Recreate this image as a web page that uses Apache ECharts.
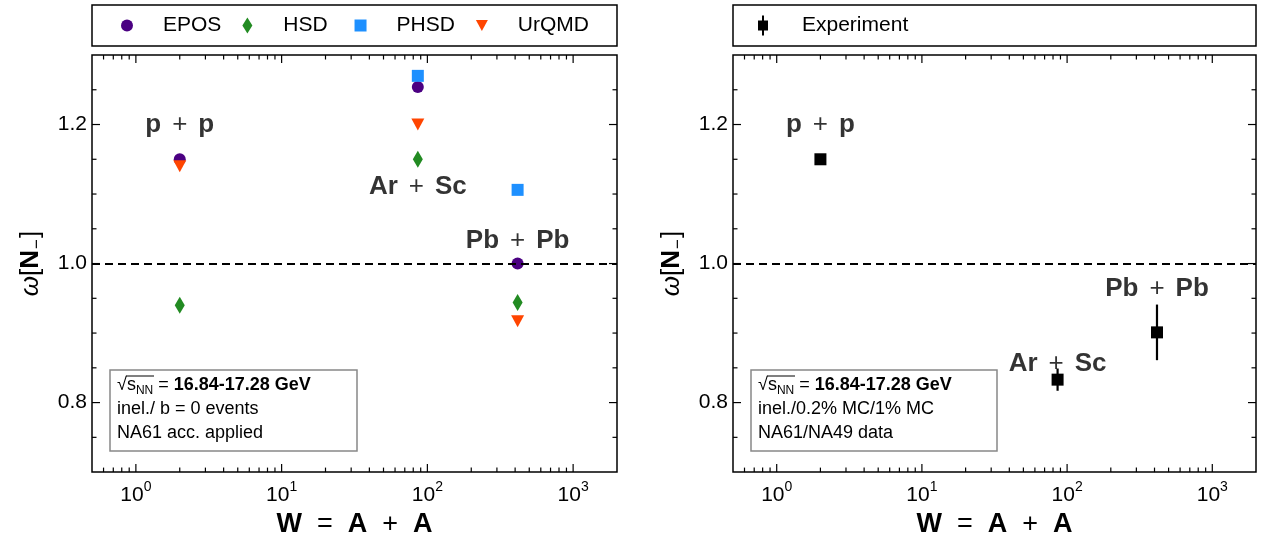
<!DOCTYPE html>
<html><head><meta charset="utf-8">
<script src="https://cdn.jsdelivr.net/npm/echarts@6/dist/echarts.min.js"></script>
<style>html,body{margin:0;padding:0;background:#fff}#c{width:1268px;height:543px}</style>
</head><body><div id="c"></div>
<script>
// ---- data ----
const systems = ['p + p', 'Ar + Sc', 'Pb + Pb'];
const wValues = [2, 86, 416];
const eposVals = [1.150, 1.254, 1.000];
const hsdVals = [0.940, 1.150, 0.944];
const phsdVals = [null, 1.270, 1.106];
const urqmdVals = [1.140, 1.200, 0.917];
const expVals = [1.150, 0.833, 0.901];
const expErrs = [0.004, 0.016, 0.040];
const leftLabelY = [1.200, 1.110, 1.033];
const rightLabelY = [1.200, 0.856, 0.964];
const xMajorTicks = [1, 10, 100, 1000];
const xTickExponents = ['0', '1', '2', '3'];
const yMajorTicks = [0.8, 1.0, 1.2];
const yMinorTicks = [0.75, 0.85, 0.9, 0.95, 1.05, 1.1, 1.15, 1.25];
const leftNote = ['inel./ b = 0 events', 'NA61 acc. applied'];
const rightNote = ['inel./0.2% MC/1% MC', 'NA61/NA49 data'];
const energyText = '16.84-17.28 GeV';

const FONT = 'Liberation Sans';
const X_MIN = 0.5, X_MAX = 2000, Y_MIN = 0.7, Y_MAX = 1.3;

// minor log ticks
const xMinorTicks = [];
for (let k = -1; k <= 3; k++) for (let m = 2; m <= 9; m++) {
  const v = m * Math.pow(10, k);
  if (v > X_MIN * 1.001 && v < X_MAX * 0.999) xMinorTicks.push(v);
}
const tickData = [];
xMajorTicks.forEach(v => tickData.push([v, 1.0, 1]));
xMinorTicks.forEach(v => tickData.push([v, 1.0, 0]));
yMajorTicks.forEach(v => tickData.push([1, v, 3]));
yMinorTicks.forEach(v => tickData.push([1, v, 2]));

function pairs(vals) { return wValues.map((w, i) => vals[i] == null ? null : [w, vals[i]]).filter(d => d); }

function tickRender(params, api) {
  const cs = params.coordSys;
  const kind = api.value(2);
  const p = api.coord([api.value(0), api.value(1)]);
  const style = { stroke: '#000', lineWidth: 1.2 };
  if (kind < 2) {
    const len = kind === 1 ? 8 : 4.5;
    return { type: 'group', children: [
      { type: 'line', shape: { x1: p[0], y1: cs.y + cs.height, x2: p[0], y2: cs.y + cs.height - len }, style },
      { type: 'line', shape: { x1: p[0], y1: cs.y, x2: p[0], y2: cs.y + len }, style }
    ]};
  }
  const len = kind === 3 ? 8 : 4.5;
  return { type: 'group', children: [
    { type: 'line', shape: { x1: cs.x, y1: p[1], x2: cs.x + len, y2: p[1] }, style },
    { type: 'line', shape: { x1: cs.x + cs.width, y1: p[1], x2: cs.x + cs.width - len, y2: p[1] }, style }
  ]};
}

function errRender(params, api) {
  const w = api.value(0), y = api.value(1), e = api.value(2);
  const a = api.coord([w, y - e]), b = api.coord([w, y + e]);
  return { type: 'line', shape: { x1: a[0], y1: a[1], x2: b[0], y2: b[1] }, style: { stroke: '#000', lineWidth: 2.2 } };
}

function xAxisFor(gi) {
  return {
    type: 'log', logBase: 10, gridIndex: gi, min: X_MIN, max: X_MAX,
    axisLine: { show: false }, axisTick: { show: false }, splitLine: { show: false },
    axisLabel: {
      margin: 8, color: '#000', fontFamily: FONT, fontSize: 21,
      showMinLabel: true, showMaxLabel: true,
      formatter: v => {
        const i = xMajorTicks.findIndex(t => Math.abs(t - v) / t < 1e-6);
        return i < 0 ? '' : '{b|10}{sup|' + xTickExponents[i] + '}';
      },
      rich: {
        b: { fontFamily: FONT, fontSize: 21, color: '#000', verticalAlign: 'bottom', lineHeight: 26 },
        sup: { fontFamily: FONT, fontSize: 14, color: '#000', verticalAlign: 'top', lineHeight: 26, padding: [0, 0, 10, 0] }
      }
    },
    name: '{b|W}{op|  =  }{b|A}{op|  +  }{b|A}', nameLocation: 'middle', nameGap: 33,
    nameTextStyle: {
      rich: {
        b: { fontFamily: FONT, fontSize: 27, fontWeight: 'bold', color: '#000' },
        op: { fontFamily: FONT, fontSize: 27, color: '#000' }
      }
    }
  };
}
function yAxisFor(gi) {
  return {
    type: 'value', gridIndex: gi, min: Y_MIN, max: Y_MAX, interval: 0.1,
    axisLine: { show: false }, axisTick: { show: false }, splitLine: { show: false },
    axisLabel: {
      margin: 5, color: '#000', fontFamily: FONT, fontSize: 21,
      formatter: v => yMajorTicks.some(t => Math.abs(t - v) < 1e-6) ? v.toFixed(1) : ''
    },
    name: '{w|ω}{r|[}{n|N}{s|−}{r|]}', nameLocation: 'middle', nameGap: 46, nameRotate: 90,
    nameTextStyle: {
      rich: {
        w: { fontFamily: FONT, fontSize: 26, fontStyle: 'italic', color: '#000', lineHeight: 30 },
        r: { fontFamily: FONT, fontSize: 26, color: '#000', lineHeight: 30 },
        n: { fontFamily: FONT, fontSize: 26, fontWeight: 'bold', color: '#000', lineHeight: 30 },
        s: { fontFamily: FONT, fontSize: 17, color: '#000', lineHeight: 30, verticalAlign: 'bottom', padding: [10, 1, 0, 1] }
      }
    }
  };
}

function labelSeries(gi, ys) {
  return {
    type: 'scatter', name: 'labels' + gi, xAxisIndex: gi, yAxisIndex: gi, symbolSize: 0, silent: true, z: 5,
    data: wValues.map((w, i) => [w, ys[i], systems[i]]),
    label: {
      show: true, position: 'inside', color: '#000', textBorderWidth: 0,
      formatter: p => p.data[2].split(' + ').map(s => '{b|' + s + '}').join('{op|+}'),
      rich: {
        b: { fontFamily: FONT, fontSize: 26, fontWeight: 'bold', color: '#000', textBorderWidth: 0 },
        op: { fontFamily: FONT, fontSize: 26, color: '#000', padding: [0, 11], textBorderWidth: 0 }
      }
    }
  };
}

const noteRich = {
  r: { fontFamily: FONT, fontSize: 18, color: '#000', lineHeight: 24 },
  sq: { fontFamily: FONT, fontSize: 18, color: '#000', lineHeight: 24 },
  sub: { fontFamily: FONT, fontSize: 12, color: '#000', lineHeight: 24, verticalAlign: 'bottom' },
  bd: { fontFamily: FONT, fontSize: 18, fontWeight: 'bold', color: '#000', lineHeight: 24 }
};
function noteText(lines) {
  return '{sq|√}{r|s}{sub|NN}{r| = }{bd|' + energyText + '}\n' + lines.map(l => '{r|' + l + '}').join('\n');
}

const chart = echarts.init(document.getElementById('c'), null, { renderer: 'canvas' });
chart.setOption({
  animation: false,
  backgroundColor: '#fff',
  grid: [
    { left: 92, top: 55, width: 525, height: 420, show: true, borderColor: '#000', borderWidth: 1.5, backgroundColor: 'transparent' },
    { left: 733, top: 55, width: 523, height: 420, show: true, borderColor: '#000', borderWidth: 1.5, backgroundColor: 'transparent' }
  ],
  xAxis: [xAxisFor(0), xAxisFor(1)],
  yAxis: [yAxisFor(0), yAxisFor(1)],
  legend: [
    {
      left: 116, top: 10, itemWidth: 12, itemHeight: 16, itemGap: 21, selectedMode: false,
      textStyle: {
        fontFamily: FONT, fontSize: 21, color: '#000', padding: [0, 0, 0, 25],
        rich: {
          t: { fontFamily: FONT, fontSize: 21, color: '#000' },
          g: { width: 7 }
        }
      },
      formatter: name => '{t|' + name + '}' + (name === 'HSD' ? '{g| }' : ''),
      data: [
        { name: 'EPOS', icon: 'circle' },
        { name: 'HSD', icon: 'path://M5,0L10,8L5,16L0,8Z' },
        { name: 'PHSD', icon: 'path://M0,0L10,0L10,10L0,10Z' },
        { name: 'UrQMD', icon: 'path://M0,0L12,0L6,11Z' }
      ]
    },
    {
      left: 753, top: 10, itemWidth: 10, itemHeight: 22, selectedMode: false,
      textStyle: { fontFamily: FONT, fontSize: 21, color: '#000', padding: [0, 0, 0, 29] },
      data: [{ name: 'Experiment', icon: 'path://M4,0L6,0L6,5L10,5L10,15L6,15L6,20L4,20L4,15L0,15L0,5L4,5Z' }]
    }
  ],
  series: [
    { type: 'custom', name: 'ticks0', xAxisIndex: 0, yAxisIndex: 0, data: tickData, renderItem: tickRender, silent: true, z: 1 },
    { type: 'custom', name: 'ticks1', xAxisIndex: 1, yAxisIndex: 1, data: tickData, renderItem: tickRender, silent: true, z: 1 },
    { type: 'scatter', name: 'ref0', xAxisIndex: 0, yAxisIndex: 0, data: [], z: 1,
      markLine: { silent: true, symbol: 'none', label: { show: false }, lineStyle: { color: '#000', type: [8, 5], width: 2.2 }, data: [{ yAxis: 1.0 }] } },
    { type: 'scatter', name: 'ref1', xAxisIndex: 1, yAxisIndex: 1, data: [], z: 1,
      markLine: { silent: true, symbol: 'none', label: { show: false }, lineStyle: { color: '#000', type: [8, 5], width: 2.2 }, data: [{ yAxis: 1.0 }] } },
    { type: 'scatter', name: 'EPOS', xAxisIndex: 0, yAxisIndex: 0, symbol: 'circle', symbolSize: 12, itemStyle: { color: '#4B0082', opacity: 1 }, data: pairs(eposVals), z: 3 },
    { type: 'scatter', name: 'HSD', xAxisIndex: 0, yAxisIndex: 0, symbol: 'diamond', symbolSize: [10, 17], itemStyle: { color: '#228B22', opacity: 1 }, data: pairs(hsdVals), z: 3 },
    { type: 'scatter', name: 'PHSD', xAxisIndex: 0, yAxisIndex: 0, symbol: 'rect', symbolSize: 12, itemStyle: { color: '#1E90FF', opacity: 1 }, data: pairs(phsdVals), z: 3 },
    { type: 'scatter', name: 'UrQMD', xAxisIndex: 0, yAxisIndex: 0, symbol: 'path://M0,0L12,0L6,11Z', symbolSize: [13, 12], itemStyle: { color: '#FF4500', opacity: 1 }, data: pairs(urqmdVals), z: 3 },
    { type: 'custom', name: 'expErr', xAxisIndex: 1, yAxisIndex: 1, data: wValues.map((w, i) => [w, expVals[i], expErrs[i]]), renderItem: errRender, silent: true, z: 2 },
    { type: 'scatter', name: 'Experiment', xAxisIndex: 1, yAxisIndex: 1, symbol: 'rect', symbolSize: 12, itemStyle: { color: '#000', opacity: 1 }, data: pairs(expVals), z: 3 },
    labelSeries(0, leftLabelY),
    labelSeries(1, rightLabelY)
  ],
  graphic: [
    { type: 'rect', z: 100, shape: { x: 92, y: 5, width: 525, height: 41 }, style: { fill: 'none', stroke: '#000', lineWidth: 1.5 } },
    { type: 'rect', z: 100, shape: { x: 733, y: 5, width: 523, height: 41 }, style: { fill: 'none', stroke: '#000', lineWidth: 1.5 } },
    { type: 'rect', z: 100, shape: { x: 110, y: 370, width: 247, height: 81 }, style: { fill: '#fff', stroke: '#888', lineWidth: 1.5 } },
    { type: 'text', z: 101, x: 117, y: 373, style: { text: noteText(leftNote), rich: noteRich } },
    { type: 'line', z: 101, shape: { x1: 126, y1: 376, x2: 154, y2: 376 }, style: { stroke: '#000', lineWidth: 1 } },
    { type: 'rect', z: 100, shape: { x: 751, y: 370, width: 246, height: 81 }, style: { fill: '#fff', stroke: '#888', lineWidth: 1.5 } },
    { type: 'text', z: 101, x: 758, y: 373, style: { text: noteText(rightNote), rich: noteRich } },
    { type: 'line', z: 101, shape: { x1: 767, y1: 376, x2: 795, y2: 376 }, style: { stroke: '#000', lineWidth: 1 } }
  ]
});
</script></body></html>
